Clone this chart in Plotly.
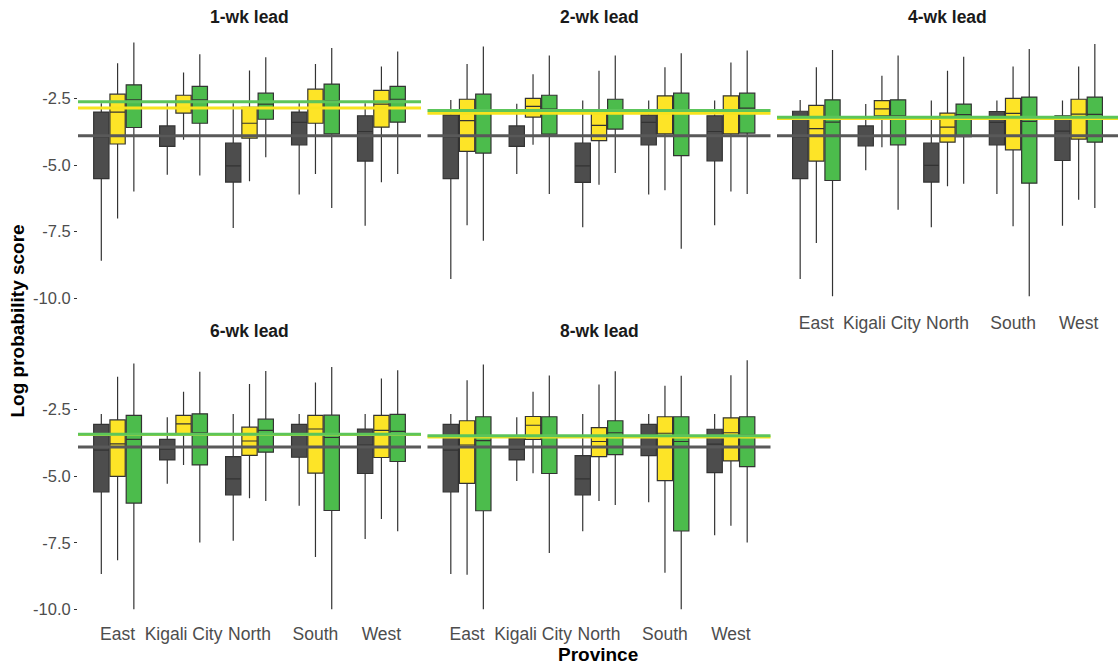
import plotly.graph_objects as go

# Provinces on the x axis of every facet
provinces = ["East", "Kigali City", "North", "South", "West"]
leads = ["1-wk lead", "2-wk lead", "4-wk lead", "6-wk lead", "8-wk lead"]

# Box statistics per province: [lower whisker, Q1, median, Q3, upper whisker]
# ref = baseline model (grey), m1 = yellow model, m2 = green model
ref_1wk = [[-8.59, -5.51, -3.94, -3.01, -2.68], [-5.36, -4.30, -3.86, -3.53, -2.68],
           [-7.36, -5.64, -5.03, -4.18, -2.68], [-6.11, -4.24, -3.40, -3.01, -2.68],
           [-7.28, -4.85, -3.74, -3.15, -2.68]]
m1_1wk = [[-7.01, -4.21, -3.01, -2.34, -1.18], [-4.05, -3.05, -2.62, -2.38, -1.53],
          [-5.61, -3.99, -3.43, -2.83, -1.45], [-5.34, -3.43, -2.61, -2.15, -1.21],
          [-5.65, -3.58, -2.71, -2.20, -1.30]]
m2_1wk = [[-5.99, -3.59, -2.55, -1.99, -0.40], [-5.39, -3.43, -2.55, -2.05, -0.84],
          [-4.71, -3.28, -2.71, -2.30, -0.95], [-6.61, -3.83, -2.58, -1.96, -0.61],
          [-5.34, -3.39, -2.53, -2.05, -0.74]]

ref_2wk = [[-9.28, -5.51, -3.94, -3.12, -2.56], [-5.34, -4.30, -3.86, -3.53, -2.70],
           [-7.34, -5.65, -5.03, -4.18, -2.58], [-6.11, -4.24, -3.40, -3.12, -2.58],
           [-7.26, -4.84, -3.74, -3.15, -2.58]]
m1_2wk = [[-7.26, -4.49, -3.33, -2.53, -1.21], [-4.24, -3.20, -2.80, -2.50, -1.59],
          [-5.74, -4.08, -3.51, -3.05, -1.46], [-5.95, -3.83, -2.95, -2.40, -1.33],
          [-5.99, -3.83, -2.95, -2.40, -1.15]]
m2_2wk = [[-7.84, -4.55, -2.95, -2.34, -0.55], [-6.09, -3.84, -2.90, -2.38, -0.89],
          [-5.30, -3.65, -2.95, -2.53, -0.89], [-8.14, -4.65, -2.95, -2.30, -0.80],
          [-6.09, -3.80, -2.86, -2.30, -0.70]]

ref_4wk = [[-9.28, -5.51, -3.94, -2.98, -2.56], [-5.20, -4.28, -3.86, -3.53, -2.71],
           [-7.34, -5.64, -5.01, -4.18, -2.58], [-6.09, -4.24, -3.40, -2.99, -2.58],
           [-7.28, -4.83, -3.73, -3.15, -2.58]]
m1_4wk = [[-7.93, -4.85, -3.63, -2.76, -1.33], [-4.33, -3.15, -2.89, -2.58, -1.65],
          [-5.80, -4.14, -3.58, -3.05, -1.46], [-7.30, -4.43, -3.06, -2.50, -1.30],
          [-6.30, -4.03, -3.09, -2.53, -1.30]]
m2_4wk = [[-9.93, -5.58, -3.39, -2.55, -0.68], [-6.68, -4.24, -3.15, -2.55, -0.89],
          [-5.70, -3.93, -3.11, -2.71, -0.93], [-9.93, -5.68, -3.36, -2.45, -0.64],
          [-6.61, -4.14, -3.10, -2.45, -0.46]]

ref_6wk = [[-8.67, -5.59, -4.02, -3.06, -2.67], [-5.29, -4.39, -3.99, -3.62, -2.79],
           [-7.43, -5.70, -5.10, -4.27, -2.67], [-6.11, -4.29, -3.39, -3.06, -2.67],
           [-7.36, -4.90, -3.83, -3.23, -2.67]]
m1_6wk = [[-8.16, -5.01, -3.79, -2.89, -1.27], [-4.58, -3.42, -3.04, -2.72, -1.83],
          [-5.83, -4.22, -3.68, -3.16, -1.54], [-8.04, -4.89, -3.23, -2.72, -1.48],
          [-6.61, -4.30, -3.28, -2.72, -1.33]]
m2_6wk = [[-10.0, -6.01, -3.62, -2.72, -0.77], [-7.49, -4.58, -3.37, -2.66, -1.08],
          [-5.93, -4.10, -3.28, -2.86, -1.05], [-10.0, -6.29, -3.55, -2.71, -0.90],
          [-7.07, -4.45, -3.32, -2.68, -1.02]]

ref_8wk = [[-8.67, -5.59, -4.02, -3.06, -2.67], [-5.18, -4.39, -3.99, -3.59, -2.79],
           [-7.07, -5.70, -5.10, -4.23, -2.67], [-5.98, -4.23, -3.45, -3.06, -2.67],
           [-7.22, -4.87, -3.80, -3.24, -2.67]]
m1_8wk = [[-8.70, -5.27, -3.83, -2.92, -1.40], [-4.89, -3.62, -3.09, -2.76, -1.83],
          [-5.93, -4.27, -3.70, -3.18, -1.56], [-8.63, -5.17, -3.39, -2.77, -1.61],
          [-6.86, -4.43, -3.37, -2.81, -1.21]]
m2_8wk = [[-10.0, -6.30, -3.67, -2.77, -0.81], [-7.89, -4.90, -3.49, -2.77, -1.22],
          [-6.08, -4.19, -3.37, -2.92, -1.06], [-10.0, -7.06, -3.70, -2.77, -1.23],
          [-7.49, -4.64, -3.46, -2.77, -0.65]]

# Overall mean score per lead (horizontal reference lines)
ref_mean = [-3.90, -3.90, -3.90, -3.91, -3.91]
m1_mean = [-2.86, -3.06, -3.25, -3.44, -3.53]
m2_mean = [-2.62, -2.95, -3.21, -3.43, -3.48]

y_ticks = [-10.0, -7.5, -5.0, -2.5]
y_tick_text = ["-10.0", "-7.5", "-5.0", "-2.5"]

stats_by_lead = [
    (ref_1wk, m1_1wk, m2_1wk),
    (ref_2wk, m1_2wk, m2_2wk),
    (ref_4wk, m1_4wk, m2_4wk),
    (ref_6wk, m1_6wk, m2_6wk),
    (ref_8wk, m1_8wk, m2_8wk),
]

MODEL_KEYS = ["ref", "m1", "m2"]
FILLS = ["#4D4D4D", "#FDE427", "#4CBC4C"]
MEAN_COLORS = ["#595959", "#F7E31E", "#5CC55A"]
OUTLINE = "#333333"
FONT = "Liberation Sans"

W, H = 1118, 667
# facet panel extents in pixels: (left, right, top, bottom)
col_px = [(78, 421), (427.5, 770.5), (777, 1118)]
row_px = [(33.2, 310.2), (344.3, 621.3)]
grid = [(0, 0), (0, 1), (0, 2), (1, 0), (1, 1)]

fig = go.Figure()
layout = dict(
    width=W, height=H,
    margin=dict(l=0, r=0, t=0, b=0),
    paper_bgcolor="white", plot_bgcolor="white",
    showlegend=False,
    boxmode="group", boxgap=0.26, boxgroupgap=0.06,
    font=dict(family=FONT, color="#4D4D4D"),
)

annotations = []
shapes = []
for i, (lead, stats) in enumerate(zip(leads, stats_by_lead)):
    r, c = grid[i]
    n = i + 1
    xa, ya = ("x" if n == 1 else f"x{n}"), ("y" if n == 1 else f"y{n}")
    x0, x1 = col_px[c]
    top, bot = row_px[r]
    show_x = (r == 1) or (c == 2)
    layout["xaxis" if n == 1 else f"xaxis{n}"] = dict(
        domain=[x0 / W, x1 / W], anchor=ya, type="category",
        categoryorder="array", categoryarray=provinces,
        range=[-0.6, 4.6], showgrid=False, zeroline=False, showline=False,
        ticks="", showticklabels=show_x,
        tickfont=dict(family=FONT, size=17.5, color="#4D4D4D"),
    )
    layout["yaxis" if n == 1 else f"yaxis{n}"] = dict(
        domain=[1 - bot / H, 1 - top / H], anchor=xa,
        range=[-10.45, -0.05], showgrid=False, zeroline=False, showline=False,
        tickvals=y_ticks, ticktext=y_tick_text,
        ticks="outside" if c == 0 else "", ticklen=3, tickwidth=1, tickcolor="#333333",
        showticklabels=(c == 0),
        tickfont=dict(family=FONT, size=16.5, color="#4D4D4D"),
    )
    for m, st in enumerate(stats):
        fig.add_trace(go.Box(
            x=provinces,
            lowerfence=[s[0] for s in st],
            q1=[s[1] for s in st],
            median=[s[2] for s in st],
            q3=[s[3] for s in st],
            upperfence=[s[4] for s in st],
            fillcolor=FILLS[m],
            line=dict(color=OUTLINE, width=1.2),
            whiskerwidth=0,
            boxpoints=False,
            alignmentgroup=f"panel{n}",
            offsetgroup=MODEL_KEYS[m],
            xaxis=xa, yaxis=ya,
            hoverinfo="skip",
        ))
    for m, means in enumerate([ref_mean, m1_mean, m2_mean]):
        shapes.append(dict(
            type="line", xref=f"{xa} domain", yref=ya,
            x0=0, x1=1, y0=means[i], y1=means[i],
            line=dict(color=MEAN_COLORS[m], width=3), layer="above",
        ))
    annotations.append(dict(
        text=f"<b>{lead}</b>", xref="paper", yref="paper",
        x=((x0 + x1) / 2) / W, y=1 - (17 if r == 0 else 330.5) / H,
        xanchor="center", yanchor="middle", showarrow=False,
        font=dict(family=FONT, size=17.5, color="#1A1A1A"),
    ))

annotations.append(dict(
    text="<b>Province</b>", xref="paper", yref="paper",
    x=((col_px[0][0] + col_px[2][1]) / 2) / W, y=1 - 654 / H,
    xanchor="center", yanchor="middle", showarrow=False,
    font=dict(family=FONT, size=19, color="#000000"),
))
annotations.append(dict(
    text="<b>Log probability score</b>", xref="paper", yref="paper",
    x=17 / W, y=1 - 321.5 / H, textangle=-90,
    xanchor="center", yanchor="middle", showarrow=False,
    font=dict(family=FONT, size=19, color="#000000"),
))

layout["annotations"] = annotations
layout["shapes"] = shapes
fig.update_layout(**layout)
fig.write_html("out.html")
